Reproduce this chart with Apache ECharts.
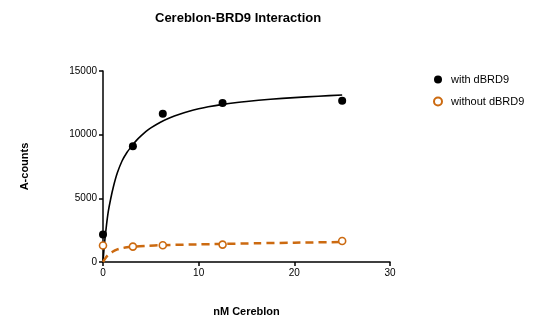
<!DOCTYPE html>
<html>
<head>
<meta charset="utf-8">
<script src="https://cdn.jsdelivr.net/npm/echarts@6/dist/echarts.min.js"></script>
<style>
  html, body { margin: 0; padding: 0; background: #fff; }
  #chart { width: 544px; height: 328px; }
</style>
</head>
<body>
<div id="chart"></div>
<script>
// Measured concentrations (nM Cereblon)
const concentrations = [0, 3.125, 6.25, 12.5, 25];
// Signal with dBRD9 (A-counts)
const withValues = [2150, 9100, 11650, 12480, 12670];
// Signal without dBRD9 (A-counts)
const withoutValues = [1300, 1210, 1310, 1365, 1650];

// Fitted binding curve, with dBRD9
const fitWithX = [0, 0.15, 0.35, 0.55, 0.8, 1.1, 1.5, 2, 2.5, 3, 3.5, 4, 4.5, 5, 6, 7, 8, 9, 10, 11, 12.5, 14, 15, 17.5, 20, 22.5, 25];
const fitWithY = [0, 1400, 2800, 3950, 4950, 5950, 7000, 7950, 8600, 9100, 9550, 9920, 10250, 10530, 10980, 11330, 11610, 11840, 12030, 12190, 12380, 12530, 12610, 12780, 12910, 13020, 13120];
// Fitted binding curve, without dBRD9
const fitWithoutX = [0, 0.25, 0.5, 1, 1.5, 2, 2.5, 3.125, 4.5, 6.25, 9, 12.5, 16, 20, 25];
const fitWithoutY = [0, 300, 520, 800, 990, 1090, 1150, 1200, 1270, 1320, 1370, 1420, 1470, 1520, 1570];

// Axis ticks
const xTicks = { min: 0, max: 30, step: 10 };
const yTicks = { min: 0, max: 15000, step: 5000 };

const ORANGE = '#CC6A10';
const FONT = 'Liberation Sans, Arial, sans-serif';

const pairs = (xs, ys) => xs.map((x, i) => [x, ys[i]]);

const chart = echarts.init(document.getElementById('chart'), null, { renderer: 'canvas' });

chart.setOption({
  backgroundColor: '#ffffff',
  animation: false,
  title: {
    text: 'Cereblon-BRD9 Interaction',
    left: 150,
    top: 7,
    textStyle: { fontFamily: FONT, fontSize: 13, fontWeight: 'bold', color: '#000' }
  },
  legend: {
    data: ['with dBRD9', 'without dBRD9'],
    orient: 'vertical',
    left: 428,
    top: 69,
    itemGap: 11,
    itemWidth: 8,
    itemHeight: 8,
    textStyle: { fontFamily: FONT, fontSize: 11, color: '#000', padding: [0, 0, 0, 4] }
  },
  grid: { left: 103, right: 154, top: 71, bottom: 66, containLabel: false },
  xAxis: {
    type: 'value',
    min: xTicks.min,
    max: xTicks.max,
    interval: xTicks.step,
    name: 'nM Cereblon',
    nameLocation: 'middle',
    nameGap: 44,
    nameTextStyle: { fontFamily: FONT, fontSize: 11, fontWeight: 'bold', color: '#000' },
    axisLine: { lineStyle: { color: '#000', width: 1.5 } },
    axisTick: { show: true, inside: false, length: 4, lineStyle: { color: '#000', width: 1.5 } },
    axisLabel: { fontFamily: FONT, fontSize: 10, color: '#000', margin: 6, formatter: v => String(v) },
    splitLine: { show: false }
  },
  yAxis: {
    type: 'value',
    min: yTicks.min,
    max: yTicks.max,
    interval: yTicks.step,
    name: 'A-counts',
    nameLocation: 'middle',
    nameGap: 73,
    nameTextStyle: { fontFamily: FONT, fontSize: 11, fontWeight: 'bold', color: '#000' },
    axisLine: { show: true, lineStyle: { color: '#000', width: 1.5 } },
    axisTick: { show: true, inside: false, length: 4, lineStyle: { color: '#000', width: 1.5 } },
    axisLabel: { fontFamily: FONT, fontSize: 10, color: '#000', margin: 6, formatter: v => String(v) },
    splitLine: { show: false }
  },
  series: [
    {
      name: 'fit with',
      type: 'line',
      data: pairs(fitWithX, fitWithY),
      smooth: 0.25,
      showSymbol: false,
      symbol: 'none',
      lineStyle: { color: '#000', width: 1.6 },
      z: 2,
      silent: true
    },
    {
      name: 'fit without',
      type: 'line',
      data: pairs(fitWithoutX, fitWithoutY),
      smooth: 0.25,
      showSymbol: false,
      symbol: 'none',
      lineStyle: { color: ORANGE, width: 2.5, type: [8, 5] },
      z: 2,
      silent: true
    },
    {
      name: 'with dBRD9',
      type: 'scatter',
      data: pairs(concentrations, withValues),
      symbol: 'circle',
      symbolSize: 8,
      itemStyle: { color: '#000', opacity: 1 },
      z: 5
    },
    {
      name: 'without dBRD9',
      type: 'scatter',
      data: pairs(concentrations, withoutValues),
      symbol: 'circle',
      symbolSize: 7,
      itemStyle: { color: '#fff', borderColor: ORANGE, borderWidth: 1.6, opacity: 1 },
      z: 5
    }
  ]
});
</script>
</body>
</html>
